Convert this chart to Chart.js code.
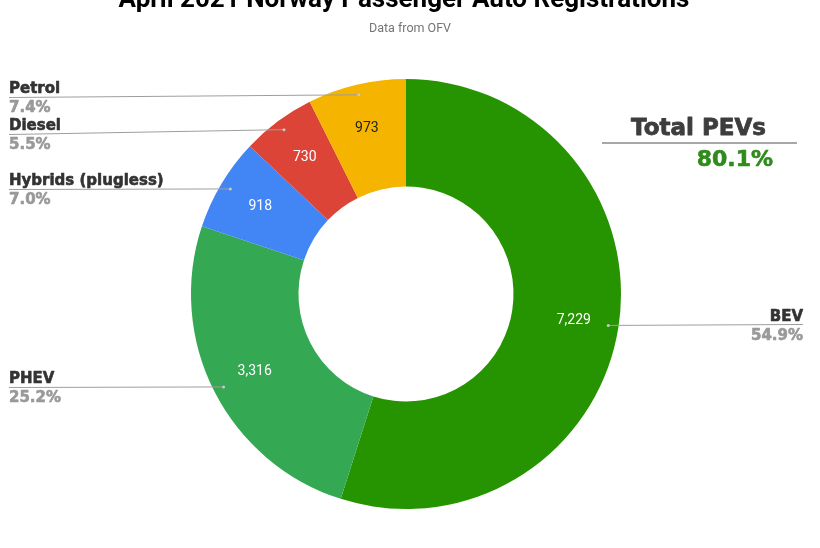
<!DOCTYPE html>
<html>
<head>
<meta charset="utf-8">
<script src="https://cdn.jsdelivr.net/npm/chart.js@4.4.1/dist/chart.umd.min.js"></script>
<style>
  html, body { margin: 0; padding: 0; background: #ffffff; }
  #wrap { width: 820px; height: 548px; position: relative; }
</style>
</head>
<body>
<div id="wrap"><canvas id="c" width="820" height="548"></canvas></div>
<script>
// ---- data ----
const categories = ["BEV", "PHEV", "Hybrids (plugless)", "Diesel", "Petrol"];
const registrations = [7229, 3316, 918, 730, 973];
const titleText = "April 2021 Norway Passenger Auto Registrations";
const subtitleText = "Data from OFV";
const totalLabel = "Total PEVs";
const totalValue = "80.1%";

// ---- styles / layout ----
const sliceColors = ["#269300", "#34a853", "#4285f4", "#db4437", "#f4b400"];
const valueTextColors = ["#ffffff", "#ffffff", "#ffffff", "#ffffff", "#222222"];
// leader-line label placement: side and y of the leader line at the label
const labelLayout = [
  { side: "right", lineY: 324.5 },
  { side: "left", lineY: 387 },
  { side: "left", lineY: 189 },
  { side: "left", lineY: 134 },
  { side: "left", lineY: 97 }
];

const total = registrations.reduce((a, b) => a + b, 0);

function heavyText(ctx, text, x, y, color, stroke) {
  ctx.fillStyle = color;
  ctx.strokeStyle = color;
  ctx.lineWidth = stroke;
  ctx.lineJoin = "round";
  ctx.strokeText(text, x, y);
  ctx.fillText(text, x, y);
}

const overlay = {
  id: "overlay",
  afterDraw(chart) {
    const ctx = chart.ctx;
    const meta = chart.getDatasetMeta(0);
    ctx.save();

    // title + subtitle
    ctx.textAlign = "center";
    ctx.textBaseline = "alphabetic";
    ctx.fillStyle = "#000000";
    ctx.font = "bold 26px Roboto, 'Liberation Sans', Arial, sans-serif";
    ctx.fillText(titleText, 404, 7);
    ctx.fillStyle = "#757575";
    ctx.font = "12.5px Roboto, 'Liberation Sans', sans-serif";
    ctx.fillText(subtitleText, 410, 32);

    meta.data.forEach((arc, i) => {
      const p = arc.getProps(["x", "y", "startAngle", "endAngle", "outerRadius", "innerRadius"], true);
      const mid = (p.startAngle + p.endAngle) / 2;
      // value label inside the ring
      const vr = p.outerRadius * 0.79;
      const vx = p.x + Math.cos(mid) * vr;
      const vy = p.y + Math.sin(mid) * vr;
      ctx.fillStyle = valueTextColors[i];
      ctx.font = "14px Roboto, 'Liberation Sans', sans-serif";
      ctx.textAlign = "center";
      ctx.textBaseline = "middle";
      ctx.fillText(registrations[i].toLocaleString("en-US"), vx, vy);

      // leader dot
      const dr = p.outerRadius * 0.952;
      const dx = p.x + Math.cos(mid) * dr;
      const dy = p.y + Math.sin(mid) * dr;
      const lay = labelLayout[i];
      ctx.strokeStyle = "#9e9e9e";
      ctx.lineWidth = 1;
      ctx.beginPath();
      const pct = (registrations[i] / total * 100).toFixed(1) + "%";
      ctx.textBaseline = "alphabetic";
      ctx.font = "bold 15px 'DejaVu Sans', sans-serif";
      let tx;
      if (lay.side === "left") {
        ctx.moveTo(9, lay.lineY + 0.5);
        ctx.lineTo(dx, dy);
        ctx.stroke();
        ctx.textAlign = "left";
        tx = 9;
      } else {
        ctx.moveTo(dx, dy);
        ctx.lineTo(803, lay.lineY);
        ctx.stroke();
        ctx.textAlign = "right";
        tx = 803;
      }
      heavyText(ctx, categories[i], tx, lay.lineY - 4, "#333333", 0.6);
      heavyText(ctx, pct, tx, lay.lineY + 15, "#999999", 0.6);

      ctx.fillStyle = "#c8c8c8";
      ctx.beginPath();
      ctx.arc(dx, dy, 1.5, 0, Math.PI * 2);
      ctx.fill();
    });

    // Total PEVs annotation
    ctx.textAlign = "center";
    ctx.textBaseline = "alphabetic";
    ctx.font = "bold 23px 'DejaVu Sans', sans-serif";
    heavyText(ctx, totalLabel, 698.5, 135, "#3d3d3d", 0.8);
    ctx.strokeStyle = "#8a8a8a";
    ctx.lineWidth = 1.5;
    ctx.beginPath();
    ctx.moveTo(602, 143);
    ctx.lineTo(797, 143);
    ctx.stroke();
    ctx.font = "bold 22px 'DejaVu Sans', sans-serif";
    ctx.textAlign = "right";
    heavyText(ctx, totalValue, 773, 166, "#2e8b1c", 0.6);
    ctx.restore();
  }
};

new Chart(document.getElementById("c"), {
  type: "doughnut",
  data: {
    labels: categories,
    datasets: [{
      data: registrations,
      backgroundColor: sliceColors,
      borderWidth: 0,
      hoverOffset: 0
    }]
  },
  options: {
    responsive: false,
    devicePixelRatio: 1,
    animation: false,
    cutout: "50%",
    layout: { padding: { top: 79, bottom: 39, left: 0, right: 8 } },
    plugins: {
      legend: { display: false },
      tooltip: { enabled: false },
      title: { display: false }
    }
  },
  plugins: [overlay]
});
</script>
</body>
</html>
